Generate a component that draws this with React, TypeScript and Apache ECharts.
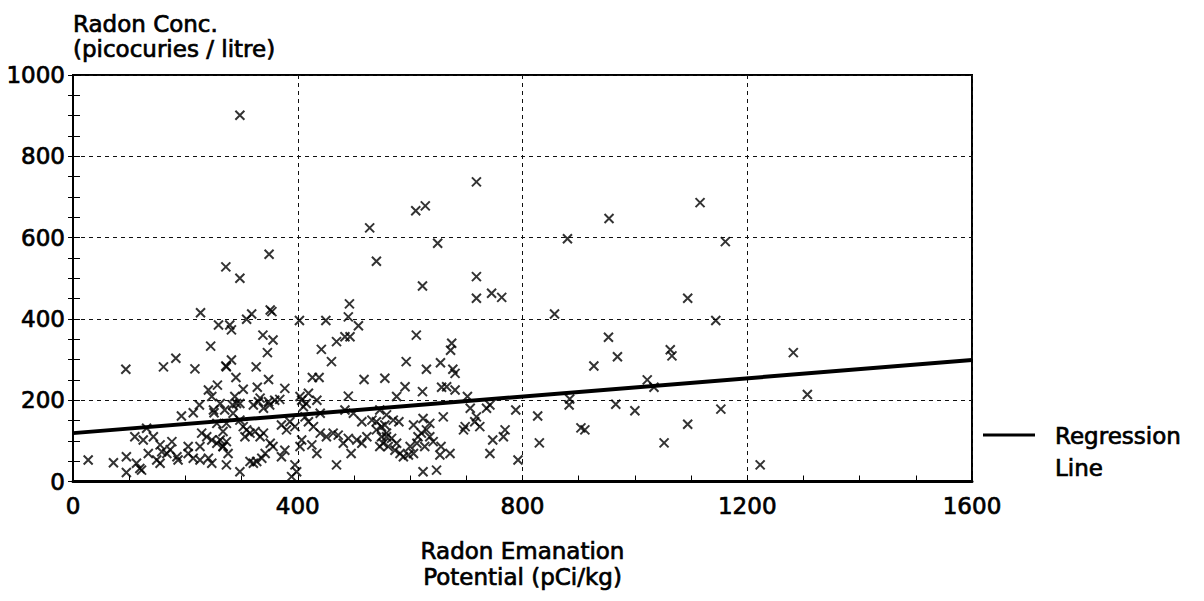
import React, { useEffect, useRef } from "react";
import * as echarts from "echarts";

const xRange = [0, 1600];
const yRange = [0, 1000];
const xStep = 400;
const yStep = 200;

const regressionX = [0, 1600];
const regressionY = [119, 299];

const xTitle = "Radon Emanation\nPotential (pCi/kg)";
const yTitle = "Radon Conc.\n(picocuries / litre)";
const legendLabel = ["Regression", "Line"];

// observed samples: [emanation potential (pCi/kg), concentration (pCi/L)]
const highSamples: [number, number][] = [
  [297, 901], [718, 737], [610, 666], [627, 678], [528, 624], [649, 586], [349, 559],
  [272, 528], [297, 500], [540, 542], [622, 481], [718, 504], [718, 451], [745, 463], [763, 453],
];

const rightSamples: [number, number][] = [
  [1116, 686], [954, 647], [880, 597], [1161, 590], [1094, 451], [857, 412], [1144, 396],
  [953, 355], [969, 307], [1063, 324], [1066, 309], [927, 284], [1282, 317], [1022, 250],
  [1034, 232], [884, 203], [883, 188], [966, 190], [1000, 174], [1153, 178], [1307, 214],
  [827, 161], [904, 132], [911, 127], [1094, 141], [830, 95], [1052, 95], [1223, 41],
];

const midSamples: [number, number][] = [
  [611, 360], [674, 340], [672, 323], [593, 295], [629, 276], [654, 292], [676, 276], [680, 266],
  [555, 254], [591, 233], [576, 209], [622, 221], [656, 232], [665, 233], [680, 225], [702, 209],
  [707, 180], [718, 159], [715, 147], [736, 180], [742, 188], [788, 176], [792, 53], [698, 135],
  [695, 127], [724, 135], [747, 102], [769, 127], [766, 110], [742, 69], [655, 86], [653, 65],
  [671, 69], [623, 24], [647, 28], [606, 139], [623, 155], [635, 143], [659, 159],
  [558, 119], [567, 106], [576, 94], [573, 77], [582, 69], [588, 61], [597, 65], [606, 69],
  [600, 86], [612, 94], [614, 110], [620, 119], [629, 127], [635, 110], [641, 98], [626, 86],
  [549, 110], [552, 94], [570, 151], [580, 147], [546, 176], [558, 164],
];

const centreSamples: [number, number][] = [
  [492, 437], [490, 405], [351, 422], [354, 418], [318, 412], [279, 385], [282, 373], [309, 399],
  [403, 396], [450, 396], [508, 383], [469, 344], [484, 356], [493, 356], [338, 360], [356, 348],
  [346, 317], [442, 325], [460, 295], [282, 299], [273, 282], [326, 282], [290, 256], [348, 251],
  [426, 256], [438, 256], [518, 251], [377, 229], [303, 227], [328, 232], [288, 209], [284, 188],
  [297, 192], [333, 205], [348, 196], [359, 200], [368, 202], [404, 209], [419, 217], [434, 200],
  [490, 210], [339, 180], [350, 188], [297, 151], [303, 135], [309, 127], [371, 139], [380, 127],
  [413, 159], [419, 147], [440, 168], [484, 176], [499, 168], [428, 135], [440, 119], [451, 110],
  [463, 119], [472, 114], [481, 94], [490, 106], [505, 102], [514, 94], [523, 110], [540, 127],
  [555, 139], [546, 86], [495, 69], [434, 69], [469, 41], [395, 41], [398, 24], [389, 12],
  [407, 102], [404, 86], [333, 110], [339, 119], [324, 123], [351, 94], [356, 86], [342, 69],
  [336, 57], [327, 49], [321, 45], [315, 49], [297, 24], [273, 98], [267, 86], [276, 69],
  [306, 110], [315, 119], [273, 41], [273, 143], [262, 192], [270, 176], [291, 192], [285, 168],
  [321, 188], [330, 196], [407, 200], [415, 192], [410, 184], [371, 61], [377, 77], [386, 147],
  [395, 135], [425, 90], [532, 151], [540, 147], [549, 135], [558, 110], [561, 86], [514, 147],
];

const leftSamples: [number, number][] = [
  [227, 415], [259, 385], [245, 333], [94, 276], [161, 282], [183, 303], [217, 277], [272, 284],
  [257, 237], [241, 225], [247, 209], [225, 188], [214, 169], [193, 161], [250, 176], [251, 169],
  [110, 110], [131, 131], [125, 102], [143, 110], [155, 90], [176, 98], [173, 78], [185, 61],
  [187, 53], [134, 69], [149, 53], [155, 45], [113, 45], [119, 32], [122, 28], [95, 61],
  [95, 22], [27, 53], [72, 46], [205, 69], [214, 57], [226, 53], [241, 57], [247, 45],
  [229, 119], [238, 110], [247, 102], [256, 94], [262, 102], [267, 86], [226, 86], [205, 86],
  [158, 73], [167, 69], [256, 143], [267, 123],
];

const FONT = "DejaVu Sans";
const CROSS = "path://M0 0L10 10M0 10L10 0";
const INK = { color: "#000", textBorderColor: "#000", textBorderWidth: 0.7 };

export default function App() {
  const ref = useRef<HTMLDivElement>(null);

  useEffect(() => {
    if (!ref.current) return;
    const chart = echarts.init(ref.current, undefined, { renderer: "svg" });
    const samples = [...highSamples, ...rightSamples, ...midSamples, ...centreSamples, ...leftSamples];
    const gridLine = { show: true, lineStyle: { color: "#111", width: 1, type: [4, 4] as number[] } };
    const plain = (v: number) => String(v);

    chart.setOption({
      animation: false,
      backgroundColor: "#fff",
      textStyle: { fontFamily: FONT, color: "#000" },
      grid: {
        left: 73,
        top: 75,
        width: 899,
        height: 406.5,
        show: true,
        borderColor: "#000",
        borderWidth: 2,
        backgroundColor: "transparent",
      },
      xAxis: {
        type: "value",
        min: xRange[0],
        max: xRange[1],
        interval: xStep,
        name: xTitle,
        nameLocation: "middle",
        nameGap: 56,
        nameTextStyle: { fontFamily: FONT, fontSize: 23, lineHeight: 26, ...INK },
        axisLine: { show: true, onZero: false, lineStyle: { color: "#000", width: 3 } },
        axisTick: { show: true, inside: true, length: 6, lineStyle: { color: "#000" } },
        minorTick: { show: true, splitNumber: 4, length: 6, lineStyle: { color: "#000" } },
        splitLine: gridLine,
        axisLabel: { fontFamily: FONT, fontSize: 23, margin: 13, formatter: plain, ...INK },
      },
      yAxis: [
        {
          type: "value",
          min: yRange[0],
          max: yRange[1],
          interval: yStep,
          name: yTitle,
          nameLocation: "end",
          nameGap: 14,
          nameTextStyle: {
            fontFamily: FONT,
            fontSize: 23,
            lineHeight: 25,
            align: "left",
            verticalAlign: "bottom",
            ...INK,
          },
          axisLine: { show: true, onZero: false, lineStyle: { color: "#000", width: 2 } },
          axisTick: { show: true, inside: true, length: 7, lineStyle: { color: "#000" } },
          minorTick: { show: true, splitNumber: 4, length: 7, lineStyle: { color: "#000" } },
          splitLine: gridLine,
          axisLabel: { fontFamily: FONT, fontSize: 23, margin: 8, formatter: plain, ...INK },
        },
        {
          type: "value",
          position: "right",
          min: yRange[0],
          max: yRange[1],
          interval: yStep,
          axisLine: { show: true, lineStyle: { color: "#000", width: 2 } },
          axisTick: { show: true, inside: true, length: 5, lineStyle: { color: "#000" } },
          minorTick: { show: true, splitNumber: 4, length: 5, lineStyle: { color: "#000" } },
          splitLine: { show: false },
          axisLabel: { show: false },
        },
      ],
      series: [
        {
          name: "Samples",
          type: "scatter",
          data: samples,
          symbol: CROSS,
          symbolSize: 9,
          itemStyle: { color: "none", borderColor: "#000", borderWidth: 2 },
          emphasis: { disabled: true },
          z: 2,
        },
        {
          name: "Regression Line",
          type: "line",
          data: regressionX.map((x, i) => [x, regressionY[i]]),
          showSymbol: false,
          symbol: "none",
          lineStyle: { color: "#000", width: 4 },
          emphasis: { disabled: true },
          z: 3,
        },
      ],
      graphic: [
        {
          type: "line",
          shape: { x1: 983, y1: 435, x2: 1035, y2: 435 },
          style: { stroke: "#000", lineWidth: 3 },
        },
        {
          type: "text",
          x: 1055,
          y: 436,
          style: {
            text: legendLabel[0],
            fontFamily: FONT,
            fontSize: 23,
            fill: "#000",
            stroke: "#000",
            lineWidth: 0.7,
            verticalAlign: "middle",
          },
        },
        {
          type: "text",
          x: 1055,
          y: 468,
          style: {
            text: legendLabel[1],
            fontFamily: FONT,
            fontSize: 23,
            fill: "#000",
            stroke: "#000",
            lineWidth: 0.7,
            verticalAlign: "middle",
          },
        },
      ],
    });

    return () => chart.dispose();
  }, []);

  return (
    <div
      ref={ref}
      style={{ position: "fixed", left: 0, top: 0, width: 1204, height: 601, background: "#fff" }}
    />
  );
}
